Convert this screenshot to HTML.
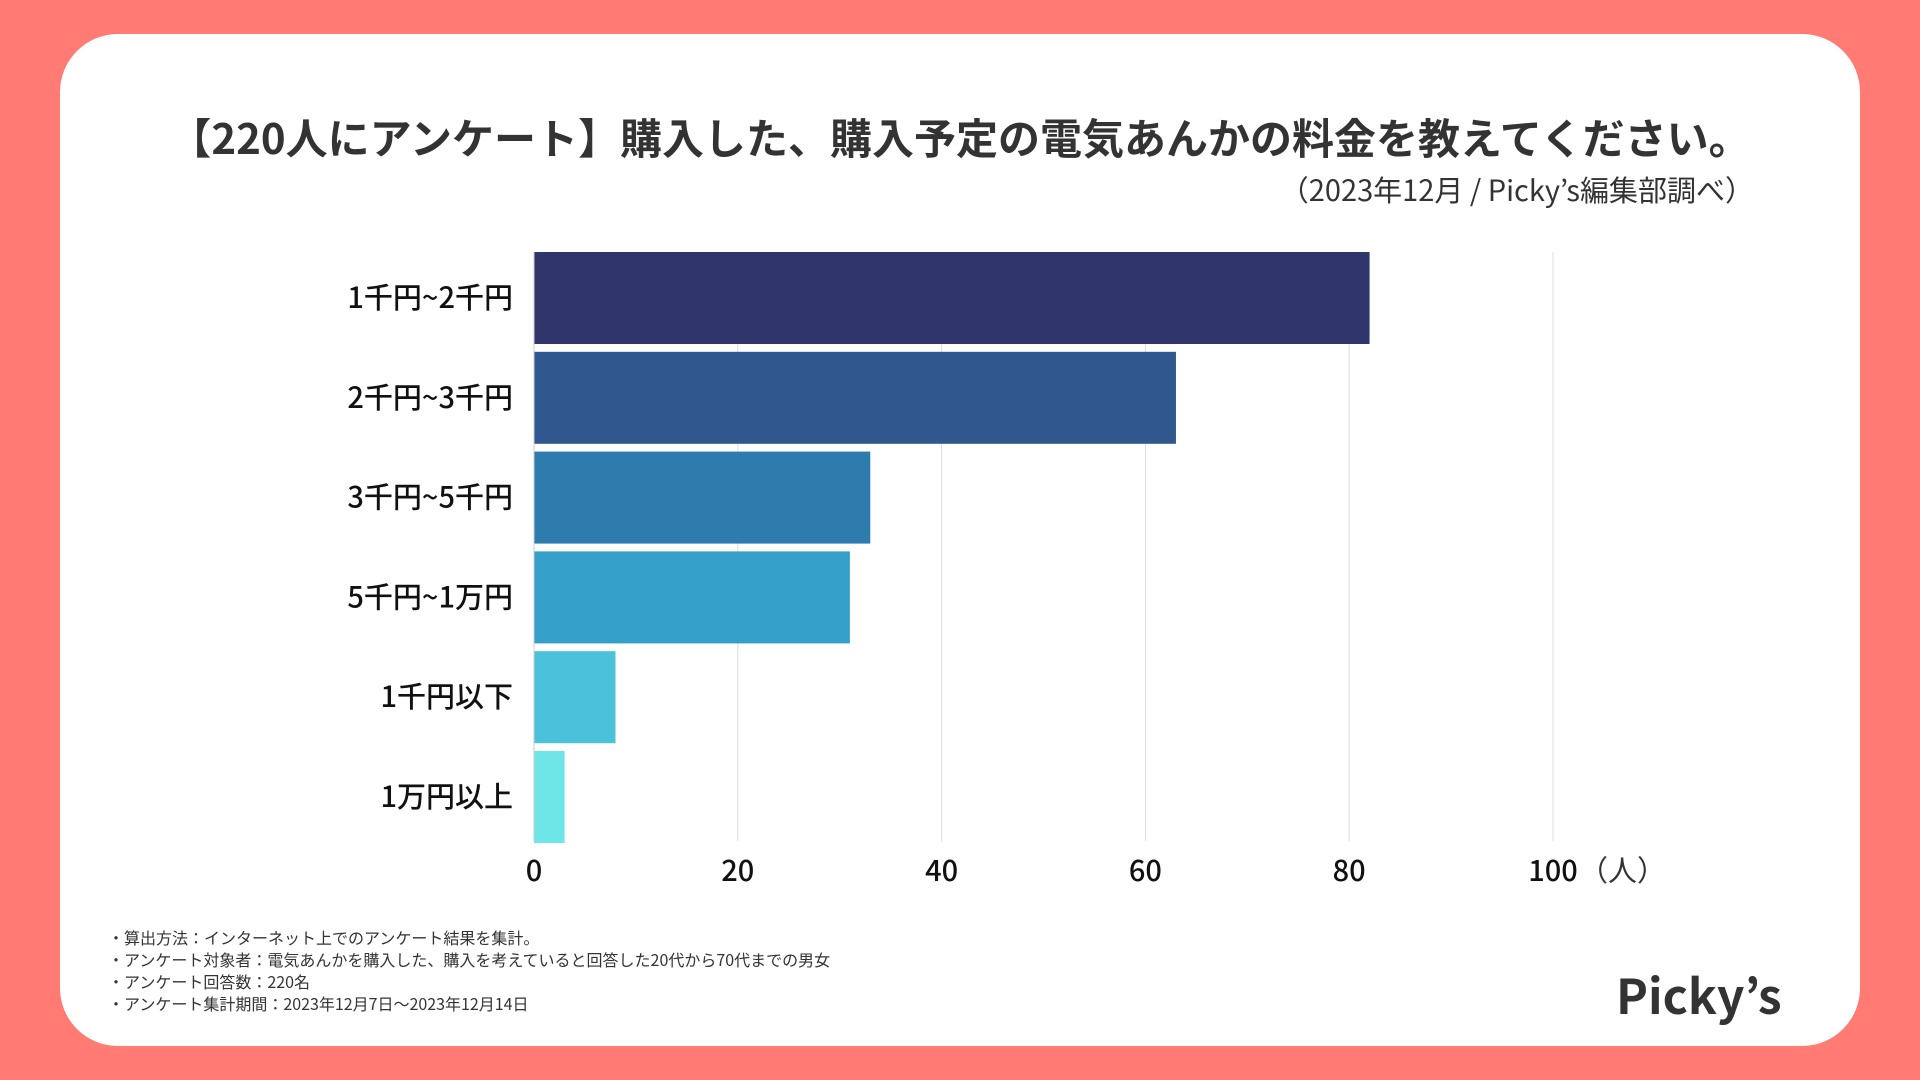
<!DOCTYPE html>
<html><head><meta charset="utf-8">
<style>
body{margin:0;width:1920px;height:1080px;background:#ff7b74;overflow:hidden;font-family:"Noto Sans CJK JP",sans-serif;}
#card{position:absolute;left:60px;top:34px;width:1800px;height:1012px;background:#fff;border-radius:58px;}
.t{position:absolute;color:#333;white-space:nowrap;}
</style></head><body>
<div id="card"></div>
<div class="t" style="left:0;width:1920px;text-align:center;top:106px;font-size:42px;font-weight:bold;font-family:'Noto Sans CJK JP',sans-serif;">【220人にアンケート】購入した、購入予定の電気あんかの料金を教えてください。</div>
<div class="t" style="right:166px;top:168px;font-size:29px;font-family:'Noto Sans CJK JP',sans-serif;">（2023年12月 / Picky’s編集部調べ）</div>
<svg id="chart" width="1920" height="1080" style="position:absolute;left:0;top:0"></svg>
<div class="t" style="left:108px;top:926px;font-size:16px;line-height:22px;font-family:'Noto Sans CJK JP',sans-serif;">・算出方法：インターネット上でのアンケート結果を集計。<br>・アンケート対象者：電気あんかを購入した、購入を考えていると回答した20代から70代までの男女<br>・アンケート回答数：220名<br>・アンケート集計期間：2023年12月7日〜2023年12月14日</div>
<div class="t" style="left:1616px;top:958px;font-size:48px;font-weight:bold;color:#333;font-family:'Noto Sans CJK JP',sans-serif;">Picky’s</div>
<script>
const categories=["1千円~2千円","2千円~3千円","3千円~5千円","5千円~1万円","1千円以下","1万円以上"];
const values=[82,63,33,31,8,3];
const ticks=[0,20,40,60,80,100];
const colors=["#30356b","#30588e","#2e7bae","#349fc9","#4bc2d9","#6ee6e8"];
const svg=document.getElementById('chart');
const NS='http://www.w3.org/2000/svg';
const x0=534,x1=1553,top0=252,pitch=99.8,bh=92;
const xs=v=>x0+(x1-x0)*v/100;
function mk(t,a){const e=document.createElementNS(NS,t);for(const k in a)e.setAttribute(k,a[k]);svg.appendChild(e);return e;}
ticks.forEach(t=>{
 const g=mk('line',{x1:xs(t),x2:xs(t),y1:252,y2:841,stroke:'#dddddd','stroke-width':1});
 
 
 const l=mk('text',{x:xs(t),y:881,'text-anchor':'middle','font-size':29,'font-weight':500,fill:'#111','font-family':'Noto Sans CJK JP, sans-serif'});
 l.textContent=t;
 
 
});
const u=mk('text',{x:xs(100)+26,y:881,'font-size':29,fill:'#333','font-family':'Noto Sans CJK JP, sans-serif'});
u.textContent='（人）';


categories.forEach((c,i)=>{
 const y=top0+i*pitch;
 const r=mk('rect',{x:x0,y:y,width:xs(values[i])-x0,height:bh,fill:colors[i]});
 
 
 const l=mk('text',{x:513,y:y+bh/2+10,'text-anchor':'end','font-size':29,'font-weight':500,fill:'#111','font-family':'Noto Sans CJK JP, sans-serif'});
 l.textContent=c;
 
 
});
const ax=mk('line',{x1:x0,x2:x0,y1:252,y2:841,stroke:'#cccccc','stroke-width':1});


</script>
</body></html>
